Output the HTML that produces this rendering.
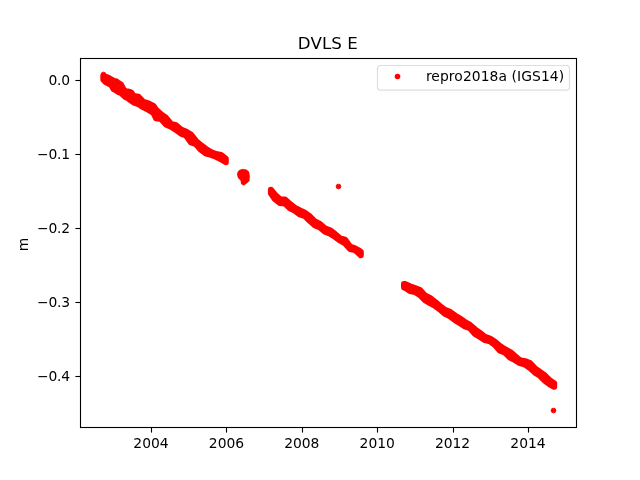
<!DOCTYPE html>
<html><head><meta charset="utf-8"><title>DVLS E</title>
<style>
html,body{margin:0;padding:0;background:#fff;}
body{width:640px;height:480px;overflow:hidden;}
svg{display:block;}
text{font-family:"DejaVu Sans","Liberation Sans",sans-serif;fill:#000;}
.t{font-size:13.89px;}
</style></head><body>
<svg width="640" height="480" viewBox="0 0 640 480">
<rect x="0" y="0" width="640" height="480" fill="#fff"/>
<g fill="#f00" stroke="#f00" stroke-width="0.9" stroke-linejoin="round">
<g stroke-width="6">
<path d="M103.3 79.6 L103.3 76.0 L106.0 76.8 L108.5 77.8 L111.0 79.3 L113.5 80.9 L116.0 81.2 L118.5 83.1 L121.0 84.6 L123.5 89.3 L126.0 91.8 L128.5 91.5 L131.0 92.3 L133.5 95.9 L138.5 96.8 L143.5 102.0 L148.5 103.4 L153.5 105.9 L156.0 109.6 L161.0 114.3 L166.0 117.8 L171.0 124.0 L176.0 125.2 L181.0 129.6 L186.0 131.5 L191.0 134.6 L196.0 140.9 L201.0 145.2 L206.0 149.0 L211.0 152.1 L216.0 154.0 L221.0 155.0 L225.8 158.6 L225.8 162.2 L221.0 159.2 L216.0 156.8 L211.0 154.9 L206.0 153.6 L201.0 149.9 L196.0 144.2 L191.0 142.4 L186.0 135.5 L181.0 133.6 L176.0 129.9 L171.0 126.8 L166.0 124.5 L161.0 119.0 L156.0 118.3 L153.5 113.0 L148.5 109.9 L143.5 107.4 L138.5 104.2 L133.5 102.4 L131.0 100.6 L128.5 98.6 L126.0 97.4 L123.5 95.2 L121.0 93.0 L118.5 92.2 L116.0 90.3 L113.5 89.0 L111.0 84.6 L108.5 83.6 L106.0 82.4Z"/>
<path d="M270.9 193.3 L270.9 189.7 L275.0 194.6 L280.0 199.2 L285.0 199.6 L290.0 204.0 L295.0 207.8 L300.0 210.5 L305.0 212.8 L310.0 216.5 L315.0 221.5 L320.0 224.0 L325.0 228.4 L330.0 230.2 L335.0 234.0 L340.0 238.3 L345.0 239.6 L350.0 246.5 L355.0 248.4 L360.0 251.2 L360.8 251.7 L360.8 255.3 L360.0 254.5 L355.0 250.0 L350.0 249.0 L345.0 243.3 L340.0 240.5 L335.0 236.8 L330.0 233.6 L325.0 231.8 L320.0 227.4 L315.0 225.5 L310.0 221.1 L305.0 216.1 L300.0 214.5 L295.0 210.8 L290.0 208.3 L285.0 203.6 L280.0 203.0 L275.0 199.2Z"/>
<path d="M404.0 287.6 L404.0 284.0 L405.0 284.0 L410.0 286.3 L415.0 288.0 L420.0 290.0 L425.0 295.5 L430.0 298.0 L435.0 301.8 L440.0 306.1 L445.0 309.9 L450.0 311.8 L455.0 315.5 L460.0 318.6 L465.0 322.0 L470.0 324.9 L475.0 329.3 L480.0 333.0 L485.0 336.8 L490.0 338.6 L495.0 341.8 L500.0 346.1 L505.0 349.2 L510.0 351.8 L515.0 356.1 L520.0 360.2 L525.0 361.1 L530.0 363.0 L535.0 368.3 L540.0 372.0 L545.0 375.5 L550.0 380.5 L554.2 383.2 L554.2 386.8 L550.0 384.5 L545.0 380.8 L540.0 375.8 L535.0 372.6 L530.0 368.0 L525.0 364.5 L520.0 363.2 L515.0 360.1 L510.0 357.6 L505.0 352.6 L500.0 350.8 L495.0 345.1 L490.0 341.4 L485.0 340.1 L480.0 337.0 L475.0 333.9 L470.0 328.2 L465.0 326.4 L460.0 323.2 L455.0 320.1 L450.0 316.4 L445.0 313.9 L440.0 309.5 L435.0 305.8 L430.0 303.2 L425.0 300.1 L420.0 295.1 L415.0 292.0 L410.0 291.0 L405.0 287.8Z"/>
</g>
<path stroke-width="0.2" d="M237.5 172.2 L239.4 170.0 L242.5 169.1 L246.2 169.5 L248.8 171.6 L249.8 176.0 L249.4 181.0 L246.9 183.2 L243.8 185.4 L241.2 184.1 L240.6 180.4 L238.1 177.9 L237.1 174.8Z"/>
<circle cx="103.5" cy="74.5" r="2.35"/>
<circle cx="338.5" cy="186.5" r="2.35"/>
<circle cx="553.5" cy="410.5" r="2.35"/>
</g>
<rect x="80.5" y="58.5" width="496" height="369" fill="none" stroke="#000" stroke-width="1.1"/>
<g stroke="#000" stroke-width="1.1">
<line x1="151.50" y1="428" x2="151.50" y2="432.6"/>
<line x1="226.50" y1="428" x2="226.50" y2="432.6"/>
<line x1="302.50" y1="428" x2="302.50" y2="432.6"/>
<line x1="377.50" y1="428" x2="377.50" y2="432.6"/>
<line x1="453.50" y1="428" x2="453.50" y2="432.6"/>
<line x1="528.50" y1="428" x2="528.50" y2="432.6"/>
<line x1="75.4" y1="80.50" x2="80" y2="80.50"/>
<line x1="75.4" y1="154.50" x2="80" y2="154.50"/>
<line x1="75.4" y1="228.50" x2="80" y2="228.50"/>
<line x1="75.4" y1="302.50" x2="80" y2="302.50"/>
<line x1="75.4" y1="376.50" x2="80" y2="376.50"/>
</g>
<g class="t" text-anchor="middle">
<text x="151.03" y="448.4">2004</text>
<text x="226.47" y="448.4">2006</text>
<text x="301.80" y="448.4">2008</text>
<text x="377.23" y="448.4">2010</text>
<text x="452.55" y="448.4">2012</text>
<text x="528.03" y="448.4">2014</text>
</g>
<g class="t" text-anchor="end" letter-spacing="-0.2">
<text x="69.9" y="84.80">0.0</text>
<text x="69.9" y="158.95">−0.1</text>
<text x="69.9" y="233.10">−0.2</text>
<text x="69.9" y="307.25">−0.3</text>
<text x="69.9" y="381.40">−0.4</text>
</g>
<text class="t" text-anchor="middle" transform="translate(27.8,244.4) rotate(-90)">m</text>
<text text-anchor="middle" x="327.9" y="48.9" font-size="16.67px" letter-spacing="0.08">DVLS E</text>
<rect x="377.5" y="65.5" width="192" height="24.6" rx="2.8" ry="2.8" fill="#fff" fill-opacity="0.8" stroke="#dedede" stroke-width="1.2"/>
<circle cx="397.5" cy="76.5" r="2.8" fill="#f00"/>
<text class="t" x="425.9" y="80.9" letter-spacing="0.075">repro2018a (IGS14)</text>
</svg>
</body></html>
